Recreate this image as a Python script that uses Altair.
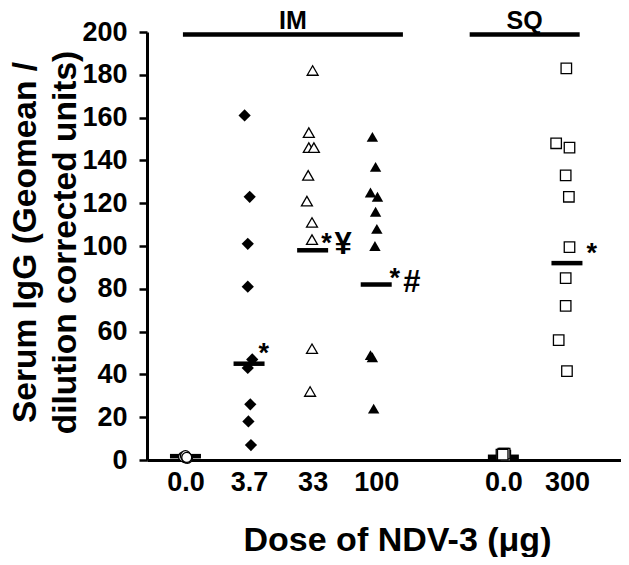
import altair as alt
import pandas as pd

FONT = "Liberation Sans"

# ---- categories (x positions in category units) ----
dose_labels = ["0.0", "3.7", "33", "100", "0.0", "300"]
dose_pos = [0, 1, 2, 3, 5, 6]

# ---- individual values (value, x position) ----
im0_vals = [1.0, 1.5, 0.8, 2.0, 1.2]
im0_x = [0.0, -0.03, 0.03, 0.0, 0.02]

d37_vals = [161, 123, 101, 81, 47, 43, 26, 18, 7]
d37_x = [0.93, 1.01, 0.98, 0.98, 1.05, 0.98, 1.02, 0.99, 1.03]

d33_vals = [182, 153, 146, 146, 133, 121, 111, 103, 52, 32]
d33_x = [2.0, 1.94, 1.94, 2.02, 1.93, 1.91, 1.99, 1.99, 1.99, 1.96]

d100_vals = [151, 137, 125, 123, 116, 108, 100, 49, 48, 24]
d100_x = [2.94, 2.99, 2.91, 3.02, 2.99, 3.01, 2.98, 2.91, 2.94, 2.96]

sq0_vals = [2.5, 3.0, 2.0, 3.0, 2.5]
sq0_x = [4.97, 5.0, 5.03, 5.02, 4.99]

sq300_vals = [183, 148, 146, 133, 123, 99.5, 85, 72, 56, 41.5]
sq300_x = [5.99, 5.83, 6.04, 5.98, 6.03, 6.04, 5.98, 5.98, 5.87, 6.0]

# ---- medians ----
median_pos = [0, 1, 2, 3, 5, 6]
median_vals = [1.8, 45, 98, 82, 1.5, 92]

# ---- significance annotations ----
star_x = [1.23, 2.22, 3.29, 6.39]
star_y = [53, 104, 88, 99.5]
sym_x = [2.48, 3.56]
sym_y = [100.5, 82.7]
sym_text = ["¥", "#"]

# ---- route brackets ----
route_names = ["IM", "SQ"]
route_start = [-0.04, 4.47]
route_end = [3.42, 6.2]
route_y = 198.8
route_label_y = 207

XDOM = [-0.605, 6.85]
YDOM = [0, 200]

label_expr = " : ".join(
    f"datum.value == {p} ? '{l}'" for p, l in zip(dose_pos, dose_labels)
) + " : ''"

xs = alt.Scale(domain=XDOM, nice=False, zero=False)
ys = alt.Scale(domain=YDOM, nice=False)


def pts(vals, xpos):
    return pd.DataFrame({"x": xpos, "y": vals})


base_x = alt.X(
    "x:Q",
    scale=xs,
    axis=alt.Axis(
        values=dose_pos,
        labelExpr=label_expr,
        ticks=False,
        grid=False,
        domainWidth=3,
        domainColor="black",
        labelFont=FONT,
        labelFontSize=27,
        labelFontWeight="bold",
        labelColor="black",
        labelPadding=9,
        title="Dose of NDV-3 (μg)",
        titleFont=FONT,
        titleFontSize=34,
        titleFontWeight="bold",
        titleColor="black",
        titleX=250,
        titleY=90,
        titleAlign="center",
        titleBaseline="alphabetic",
    ),
)
base_y = alt.Y(
    "y:Q",
    scale=ys,
    axis=alt.Axis(
        values=list(range(0, 201, 20)),
        grid=False,
        domainWidth=3,
        domainColor="black",
        tickSize=8,
        tickWidth=2.5,
        tickColor="black",
        labelFont=FONT,
        labelFontSize=27,
        labelFontWeight="bold",
        labelColor="black",
        labelPadding=12,
        title=["Serum IgG (Geomean /", "dilution corrected units)"],
        titleFont=FONT,
        titleFontSize=33.5,
        titleFontWeight="bold",
        titleColor="black",
        titleLineHeight=40,
        titleX=-138,
        titleY=210,
        titleAngle=270,
        titleAlign="center",
        titleBaseline="top",
    ),
)

xq = alt.X("x:Q", scale=xs)
yq = alt.Y("y:Q", scale=ys)

# axes layer (invisible)
axes = alt.Chart(pd.DataFrame({"x": [0], "y": [0]})).mark_point(opacity=0).encode(
    x=base_x, y=base_y
)

open_style = dict(filled=True, fill="white", stroke="black", strokeWidth=1.3, opacity=1)

im0 = alt.Chart(pts(im0_vals, im0_x)).mark_point(shape="circle", size=100, **open_style).encode(x=xq, y=yq)
d37 = alt.Chart(pts(d37_vals, d37_x)).mark_point(shape="diamond", size=150, filled=True, color="black", opacity=1).encode(x=xq, y=yq)
d33 = alt.Chart(pts(d33_vals, d33_x)).mark_point(shape="triangle-up", size=120, **open_style).encode(x=xq, y=yq)
d100 = alt.Chart(pts(d100_vals, d100_x)).mark_point(shape="triangle-up", size=130, filled=True, color="black", opacity=1).encode(x=xq, y=yq)
sq0 = alt.Chart(pts(sq0_vals, sq0_x)).mark_point(shape="square", size=110, **open_style).encode(x=xq, y=yq)
sq300 = alt.Chart(pts(sq300_vals, sq300_x)).mark_point(shape="square", size=110, **open_style).encode(x=xq, y=yq)

medians = alt.Chart(pd.DataFrame({"x": median_pos, "y": median_vals})).mark_tick(
    orient="horizontal", size=31, thickness=4.5, color="black", opacity=1
).encode(x=xq, y=yq)

stars = alt.Chart(pd.DataFrame({"x": star_x, "y": star_y, "t": ["*"] * len(star_x)})).mark_text(
    font=FONT, fontSize=27, fontWeight="bold", color="black", align="center", baseline="middle", dy=7
).encode(x=xq, y=yq, text="t:N")

syms = alt.Chart(pd.DataFrame({"x": sym_x, "y": sym_y, "t": sym_text})).mark_text(
    font=FONT, fontSize=31, fontWeight="bold", color="black", align="center", baseline="middle"
).encode(x=xq, y=yq, text="t:N")

route_df = pd.DataFrame({
    "x": route_start, "x2": route_end, "y": [route_y] * 2,
    "lx": [(a + b) / 2 for a, b in zip(route_start, route_end)],
    "ly": [route_label_y] * 2, "name": route_names,
})
route_rules = alt.Chart(route_df).mark_rule(strokeWidth=4.5, color="black").encode(
    x=xq, x2="x2:Q", y=yq
)
route_text = alt.Chart(route_df).mark_text(
    font=FONT, fontSize=25, fontWeight="bold", color="black", align="center", baseline="middle", dy=4
).encode(x=alt.X("lx:Q", scale=xs), y=alt.Y("ly:Q", scale=ys), text="name:N")

chart = alt.layer(
    axes, medians, im0, d37, d33, d100, sq0, sq300, stars, syms, route_rules, route_text
).properties(
    width=474,
    height=428,
    autosize=alt.AutoSizeParams(type="none"),
    padding={"left": 139, "top": 24, "right": 0, "bottom": 97},
).configure_view(stroke=None)

chart.save("out.html", embed_options={"renderer": "svg", "actions": False})
